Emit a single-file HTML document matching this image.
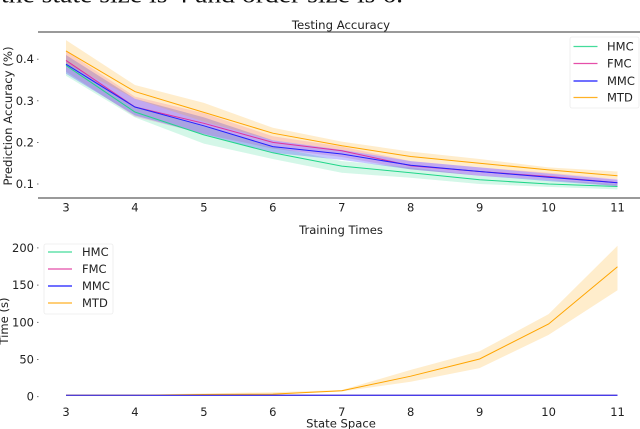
<!DOCTYPE html>
<html>
<head>
<meta charset="utf-8">
<style>
html,body{margin:0;padding:0;background:#fff;width:640px;height:429px;overflow:hidden}
svg{display:block;font-family:"DejaVu Sans","Liberation Sans",sans-serif;fill:#222}
</style>
</head>
<body>
<svg id="fig" width="640" height="429" viewBox="0 0 640 429" xmlns="http://www.w3.org/2000/svg">
<text x="1" y="2.5" font-size="24" textLength="402" lengthAdjust="spacingAndGlyphs" fill="#111" style="font-family:'Liberation Serif',serif">the state size is 4 and order size is 6.</text>
<g id="topChart" filter="url(#soft)"></g>
<g id="botChart" filter="url(#soft)"></g>
<defs><filter id="soft" x="0" y="0" width="100%" height="100%"><feGaussianBlur stdDeviation="0.35"/></filter></defs>
</svg>
<script>
const categories = [3,4,5,6,7,8,9,10,11];
const seriesNames = ['HMC','FMC','MMC','MTD'];
const seriesColors = ['#22d68a','#e0309a','#2020ff','#ffa500'];

const accTicks = [0.1,0.2,0.3,0.4];
const accHMC = [0.385,0.273,0.218,0.175,0.143,0.127,0.110,0.100,0.094];
const accHMCHigh = [0.395,0.285,0.240,0.190,0.155,0.140,0.120,0.110,0.100];
const accHMCLow = [0.360,0.260,0.197,0.160,0.127,0.115,0.100,0.093,0.087];
const accFMC = [0.397,0.285,0.246,0.200,0.180,0.144,0.130,0.118,0.103];
const accFMCHigh = [0.420,0.310,0.270,0.215,0.190,0.155,0.140,0.127,0.112];
const accFMCLow = [0.370,0.262,0.220,0.185,0.165,0.135,0.120,0.110,0.095];
const accMMC = [0.388,0.285,0.240,0.190,0.172,0.145,0.130,0.116,0.103];
const accMMCHigh = [0.410,0.305,0.260,0.205,0.182,0.155,0.140,0.125,0.110];
const accMMCLow = [0.365,0.265,0.220,0.175,0.158,0.135,0.120,0.107,0.095];
const accMTD = [0.420,0.322,0.272,0.222,0.192,0.166,0.150,0.134,0.120];
const accMTDHigh = [0.446,0.338,0.295,0.235,0.202,0.178,0.160,0.140,0.130];
const accMTDLow = [0.390,0.305,0.250,0.205,0.182,0.155,0.140,0.125,0.112];

const timeTicks = [0,50,100,150,200];
const timeHMC = [2,2,2,2,2,2,2,2,2];
const timeFMC = [2,2,2,2,2,2,2,2,2];
const timeMMC = [2,2,2,2,2,2,2,2,2];
const timeMTD = [2,2,3,3.5,8,27.6,50.7,97.7,174.7];
const timeMTDHigh = [2.5,2.5,4.5,6,9,36,61,111,203];
const timeMTDLow = [1.5,1.5,2,2.5,7,20,38.5,83,143];

const NS = 'http://www.w3.org/2000/svg';
const xPos = v => 66 + (v - 3) * 68.94;
const yAcc = v => 184 - (v - 0.1) * 416;
const yTime = v => 396.7 - v * 0.744;

function mk(parent, tag, attrs, text){
  const el = document.createElementNS(NS, tag);
  for (const k in attrs) el.setAttribute(k, attrs[k]);
  if (text !== undefined) el.textContent = text;
  parent.appendChild(el);
  return el;
}
function linePath(vals, y){
  return vals.map((v,i)=>(i?'L':'M')+xPos(categories[i]).toFixed(1)+' '+y(v).toFixed(1)).join(' ');
}
function bandPath(hi, lo, y){
  const a = hi.map((v,i)=>(i?'L':'M')+xPos(categories[i]).toFixed(1)+' '+y(v).toFixed(1));
  const b = lo.map((v,i)=>'L'+xPos(categories[i]).toFixed(1)+' '+y(v).toFixed(1)).reverse();
  return a.concat(b).join(' ')+' Z';
}

const topChart = document.getElementById('topChart');
const botChart = document.getElementById('botChart');

/* top axes frame */
const topSpine = mk(topChart,'rect',{x:38,y:31.4,width:602,height:1.2,fill:'#555'});


const botSpine = mk(topChart,'rect',{x:38,y:197.4,width:602,height:1.2,fill:'#555'});



const topTitle = mk(topChart,'text',{x:341,y:29,'font-size':11.7,'text-anchor':'middle'},'Testing Accuracy');


const topXTitle = mk(topChart,'text',{x:341,y:234,'font-size':11.6,'text-anchor':'middle'},'Training Times');


const topYTitle = mk(topChart,'text',{x:0,y:0,'font-size':11.7,'text-anchor':'middle',transform:'translate(12,116) rotate(-90)'},'Prediction Accuracy (%)');



accTicks.forEach(t=>{
  const label = mk(topChart,'text',{x:34,y:yAcc(t)+4,'font-size':11.5,'text-anchor':'end'},t.toFixed(1));
  
  
  const mark = mk(topChart,'rect',{x:37,y:yAcc(t)-0.4,width:1.5,height:0.8,fill:'#555'});
  
  
});
categories.forEach(c=>{
  const label = mk(topChart,'text',{x:xPos(c),y:211.5,'font-size':11.5,'text-anchor':'middle'},String(c));
  
  
});

const accBands = [[accHMCHigh,accHMCLow],[accFMCHigh,accFMCLow],[accMMCHigh,accMMCLow],[accMTDHigh,accMTDLow]];
const accLines = [accHMC,accFMC,accMMC,accMTD];
accBands.forEach((b,i)=>{
  const band = mk(topChart,'path',{d:bandPath(b[0],b[1],yAcc),fill:seriesColors[i],'fill-opacity':i===2?0.25:0.2,stroke:'none'});
  
  
});
accLines.forEach((vals,i)=>{
  const line = mk(topChart,'path',{d:linePath(vals,yAcc),fill:'none',stroke:seriesColors[i],'stroke-width':1});
  
  
});

/* legends */
function legend(parent, bx, by, bw, bh, lx, tx, ys){
  const box = mk(parent,'rect',{x:bx,y:by,width:bw,height:bh,rx:2,fill:'#fff','fill-opacity':0.85,stroke:'#ececec','stroke-width':0.8});
  
  
  seriesNames.forEach((n,i)=>{
    const sw = mk(parent,'line',{x1:lx,x2:lx+24,y1:ys[i],y2:ys[i],stroke:seriesColors[i],'stroke-width':i===2?1.6:1.2,'stroke-opacity':0.85});
    
    
    const lab = mk(parent,'text',{x:tx,y:ys[i]+4,'font-size':11.5},n);
    
    
  });
}
legend(topChart,570,37,69,71,573.5,607,[46.5,63.5,81,97.5]);

/* bottom chart */
const botXTitle = mk(botChart,'text',{x:341,y:427.5,'font-size':11.6,'text-anchor':'middle'},'State Space');


const botYTitle = mk(botChart,'text',{x:0,y:0,'font-size':11.6,'text-anchor':'middle',transform:'translate(8,321) rotate(-90)'},'Time (s)');



timeTicks.forEach(t=>{
  const label = mk(botChart,'text',{x:34,y:yTime(t)+4,'font-size':11.5,'text-anchor':'end'},String(t));
  
  
  const mark = mk(botChart,'rect',{x:37,y:yTime(t)-0.4,width:1.5,height:0.8,fill:'#555'});
  
  
});
categories.forEach(c=>{
  const label = mk(botChart,'text',{x:xPos(c),y:416,'font-size':11.5,'text-anchor':'middle'},String(c));
  
  
});

const timeBand = mk(botChart,'path',{d:bandPath(timeMTDHigh,timeMTDLow,yTime),fill:'#ffa500','fill-opacity':0.2});


[timeHMC,timeFMC,timeMTD,timeMMC].forEach((vals,i)=>{
  const idx = [0,1,3,2][i];
  const line = mk(botChart,'path',{d:linePath(vals,yTime),fill:'none',stroke:seriesColors[idx],'stroke-width':1});
  
  
});
legend(botChart,44,244,69,70,48,82,[252,269,286,303]);
</script>
</body>
</html>
